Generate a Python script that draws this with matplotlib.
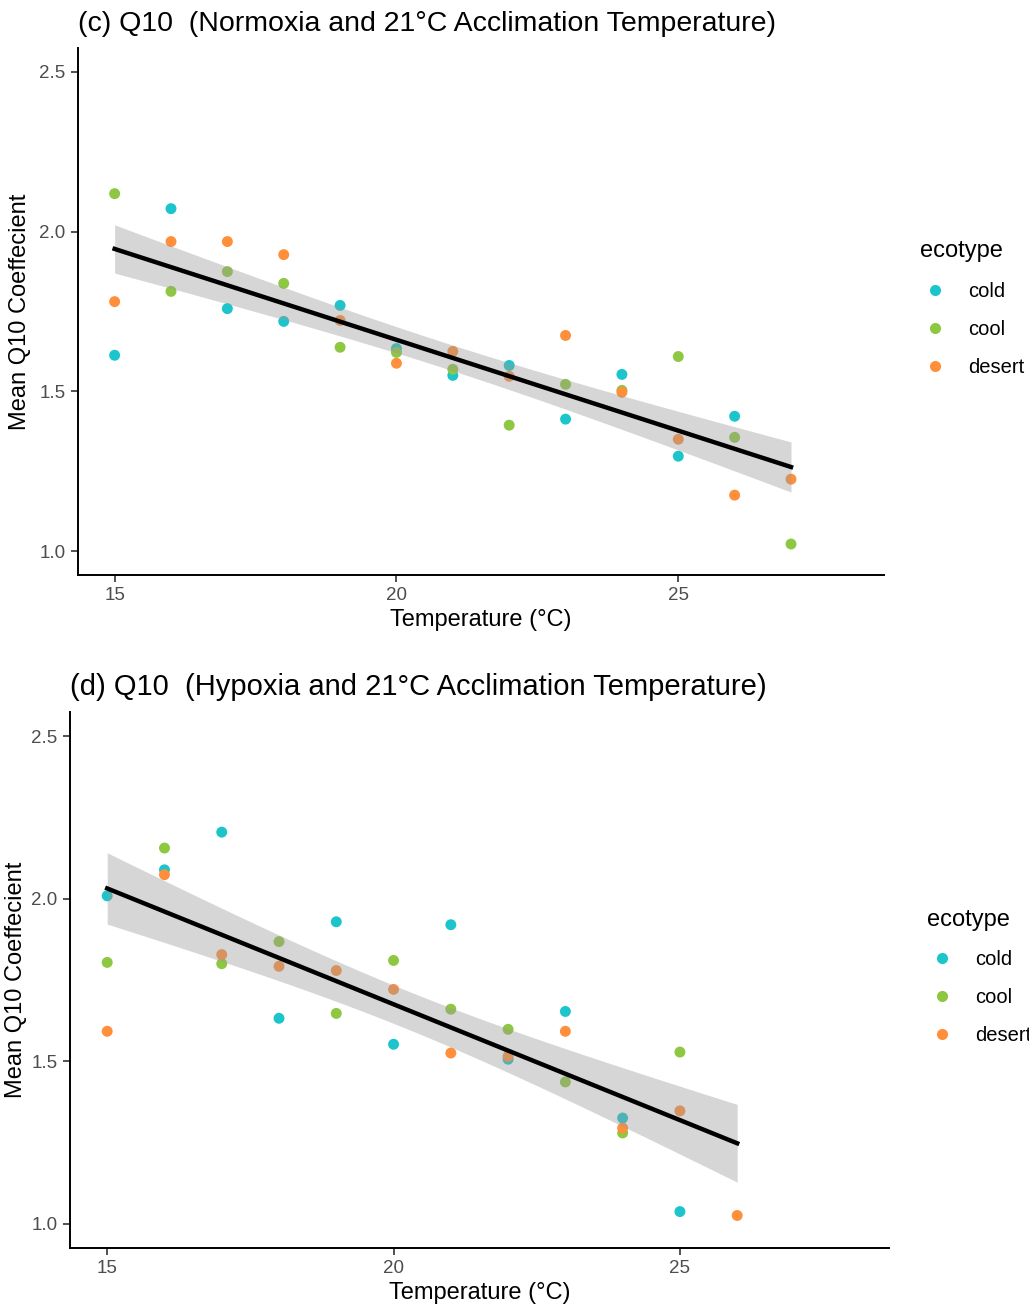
import numpy as np
import matplotlib
matplotlib.use('Agg')
import matplotlib.pyplot as plt
from matplotlib.lines import Line2D

plt.rcParams['font.family'] = ['Liberation Sans', 'DejaVu Sans']

# Panel (c): normoxia
c_cold_t = [15, 16, 17, 18, 19, 20, 21, 22, 23, 24, 25, 26]
c_cold_q = [1.613, 2.072, 1.759, 1.719, 1.769, 1.634, 1.550, 1.581, 1.413, 1.553, 1.297, 1.422]
c_cool_t = [15, 16, 17, 18, 19, 20, 21, 22, 23, 24, 25, 26, 27]
c_cool_q = [2.119, 1.813, 1.875, 1.838, 1.638, 1.622, 1.569, 1.394, 1.522, 1.503, 1.609, 1.356, 1.022]
c_desert_t = [15, 16, 17, 18, 19, 20, 21, 22, 23, 24, 25, 26, 27]
c_desert_q = [1.781, 1.969, 1.969, 1.928, 1.722, 1.588, 1.625, 1.547, 1.675, 1.497, 1.350, 1.175, 1.225]

# Panel (d): hypoxia
d_cold_t = [15, 16, 17, 18, 19, 20, 21, 22, 23, 24, 25]
d_cold_q = [2.009, 2.089, 2.205, 1.632, 1.929, 1.552, 1.920, 1.506, 1.653, 1.325, 1.037]
d_cool_t = [15, 16, 17, 18, 19, 20, 21, 22, 23, 24, 25]
d_cool_q = [1.804, 2.156, 1.800, 1.868, 1.647, 1.810, 1.660, 1.598, 1.436, 1.279, 1.528]
d_desert_t = [15, 16, 17, 18, 19, 20, 21, 22, 23, 24, 25, 26]
d_desert_q = [1.592, 2.074, 1.828, 1.792, 1.779, 1.721, 1.525, 1.515, 1.592, 1.294, 1.347, 1.025]

ecotypes = ['cold', 'cool', 'desert']
colors = {'cold': '#1CC5CB', 'cool': '#8EC741', 'desert': '#FF8F3A'}
T_CRIT = 2.03  # t quantile, 95%, ~35 df


def lm_band(x, y):
    x = np.asarray(x, float)
    y = np.asarray(y, float)
    n = len(x)
    b, a = np.polyfit(x, y, 1)
    resid = y - (a + b * x)
    s = np.sqrt(np.sum(resid ** 2) / (n - 2))
    xs = np.linspace(x.min(), x.max(), 80)
    se = s * np.sqrt(1 / n + (xs - x.mean()) ** 2 / np.sum((x - x.mean()) ** 2))
    fit = a + b * xs
    return xs, fit, fit - T_CRIT * se, fit + T_CRIT * se


def panel(ax, series, title, title_size, ypad, leg_anchor):
    allx, ally = [], []
    for name, (t, q) in zip(ecotypes, series):
        ax.scatter(t, q, s=62, color=colors[name], edgecolors='none', zorder=2)
        allx += t
        ally += q
    xs, fit, lo, hi = lm_band(allx, ally)
    ax.fill_between(xs, lo, hi, color='#999999', alpha=0.4, linewidth=0, zorder=3)
    ax.plot(xs, fit, color='black', linewidth=3.2, zorder=4)

    ax.set_xlim(14.35, 28.65)
    ax.set_ylim(0.925, 2.575)
    ax.set_xticks([15, 20, 25])
    ax.set_yticks([1.0, 1.5, 2.0, 2.5])
    ax.set_yticklabels(['1.0', '1.5', '2.0', '2.5'])
    for sp in ['top', 'right']:
        ax.spines[sp].set_visible(False)
    for sp in ['left', 'bottom']:
        ax.spines[sp].set_linewidth(1.4)
    ax.tick_params(length=5, width=1.2, pad=4, labelsize=13.5, labelcolor='#4D4D4D', color='#333333')
    ax.set_xlabel('Temperature (°C)', fontsize=17, labelpad=3)
    ax.set_ylabel('Mean Q10 Coeffecient', fontsize=17, labelpad=ypad)
    ax.set_title(title, fontsize=title_size, loc='left', x=0.0, pad=12)

    handles = [Line2D([], [], marker='o', linestyle='none', markersize=8,
                      markerfacecolor=colors[e], markeredgecolor='none') for e in ecotypes]
    leg = ax.legend(handles, ecotypes, title='ecotype', loc='upper left',
                    bbox_to_anchor=leg_anchor, bbox_transform=fig.transFigure,
                    frameon=False, fontsize=14.5, title_fontsize=17,
                    labelspacing=0.95, handletextpad=0.9, handlelength=1.5)
    leg._legend_box.align = 'left'


fig = plt.figure(figsize=(10.29, 13.08), dpi=100)
ax1 = fig.add_axes([0.0758, 0.5604, 0.7833, 0.4029])
ax2 = fig.add_axes([0.0680, 0.0459, 0.7959, 0.4098])

panel(ax1, [(c_cold_t, c_cold_q), (c_cool_t, c_cool_q), (c_desert_t, c_desert_q)],
      '(c) Q10  (Normoxia and 21°C Acclimation Temperature)', 20.5, 6, (0.876, 0.83))
panel(ax2, [(d_cold_t, d_cold_q), (d_cool_t, d_cool_q), (d_desert_t, d_desert_q)],
      '(d) Q10  (Hypoxia and 21°C Acclimation Temperature)', 21, 3, (0.883, 0.319))

fig.savefig('out.png', dpi=100)
